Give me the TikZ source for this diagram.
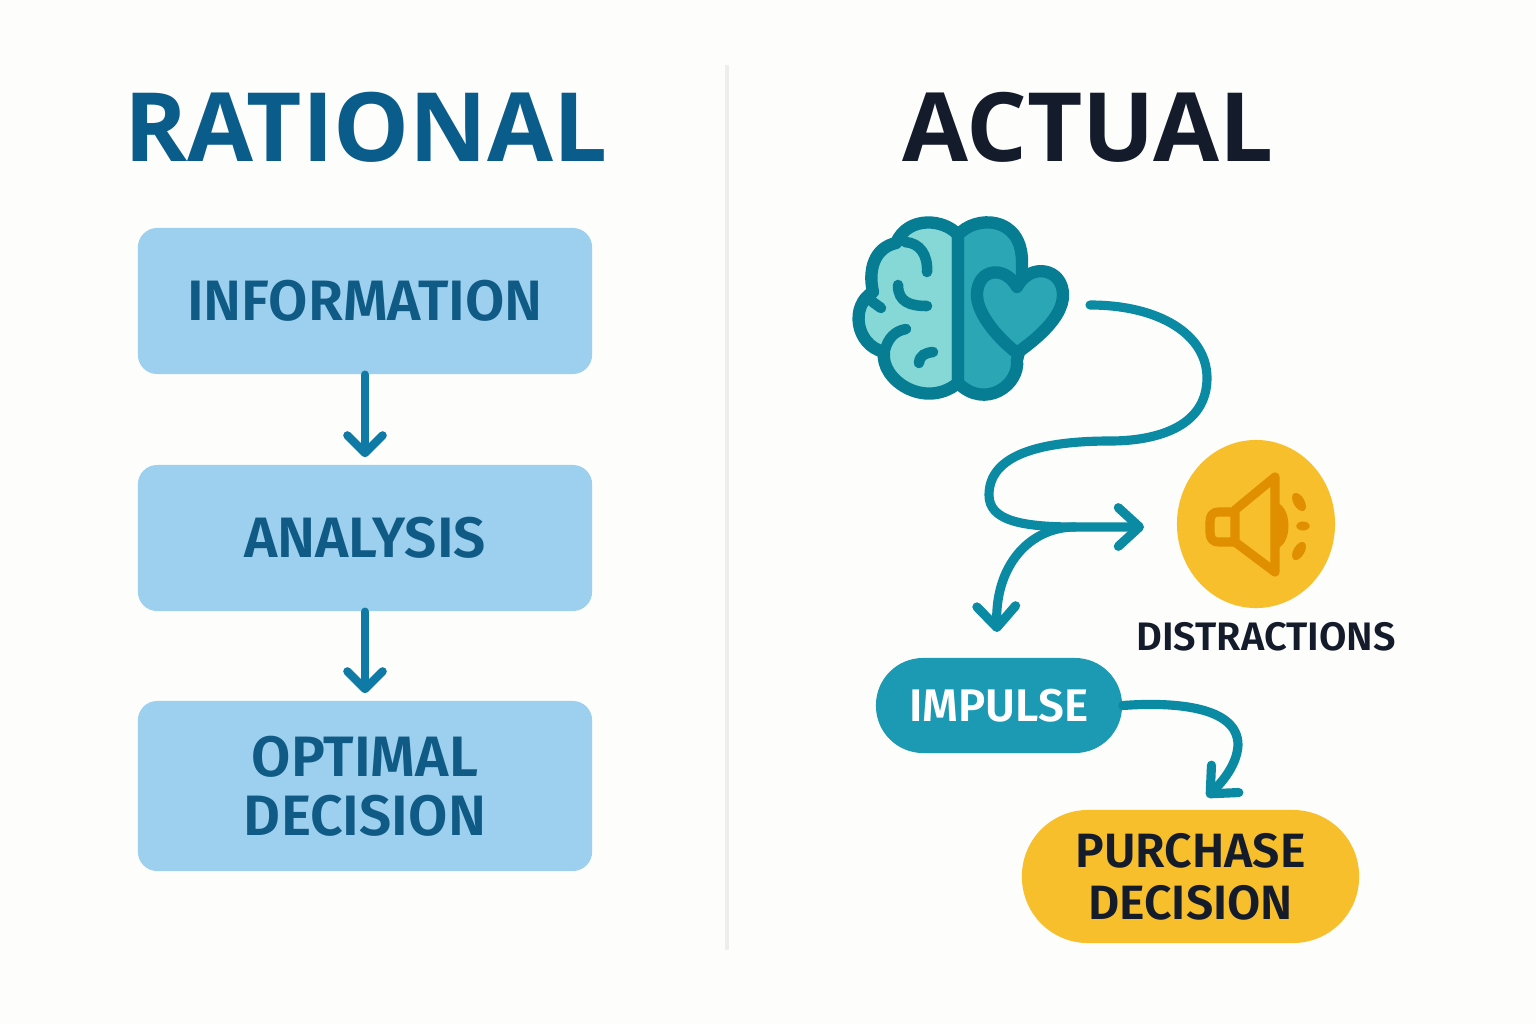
\documentclass[tikz,border=0pt]{standalone}
\usepackage{fontspec}
\setmainfont{Fira Sans}[BoldFont={Fira Sans SemiBold}]
\newfontfamily\headfont{Open Sans}
\usetikzlibrary{arrows.meta,shapes.geometric}
\definecolor{paper}{HTML}{FDFDFB}
\definecolor{rule}{HTML}{EEEEEB}
\definecolor{skyfill}{HTML}{9DCFEE}
\definecolor{navytext}{HTML}{0F5B85}
\definecolor{titleblue}{HTML}{0A5C8A}
\definecolor{inkdark}{HTML}{141B2A}
\definecolor{arrowblue}{HTML}{0F7AA6}
\definecolor{teal}{HTML}{0A8AA3}
\definecolor{tealdark}{HTML}{067D93}
\definecolor{tealpale}{HTML}{85D8D6}
\definecolor{tealmid}{HTML}{2BA6B5}
\definecolor{pilltill}{HTML}{1C9AB3}
\definecolor{amber}{HTML}{F8BF2C}
\definecolor{amberdark}{HTML}{E08F00}
\tikzset{
  stepbox/.style={fill=skyfill,rounded corners=5.5pt,minimum width=4.54cm,text=navytext,align=center,font=\fontsize{16.2}{16.8}\selectfont\bfseries},
  titletext/.style={font=\headfont\fontsize{27.2}{30}\selectfont\bfseries},
  flow/.style={line width=2.4pt,line cap=round,line join=round,-{Straight Barb[round,length=5pt,width=10pt]}},
  bigflow/.style={line width=2.6pt,line cap=round,line join=round,-{Straight Barb[round,length=6pt,width=11pt]}},
  brainline/.style={draw=tealdark,line width=3.5pt,line cap=round,line join=round},
  brainfold/.style={draw=tealdark,line width=3pt,line cap=round},
}
\begin{document}
\begin{tikzpicture}[x=0.01cm,y=-0.01cm]
      \fill[paper] (0,0) rectangle (1536,1024);
      \useasboundingbox (0,0) rectangle (1536,1024);
      \draw[rule,line width=1pt] (727,65) -- (727,950);
      % left column
      \node[titletext,text=titleblue] (rational) at (366,127) {RATIONAL};
      \node[stepbox,minimum height=1.46cm] (information) at (365,301) {INFORMATION};
      \node[stepbox,minimum height=1.46cm] (analysis) at (365,538) {ANALYSIS};
      \node[stepbox,minimum height=1.70cm] (optimal) at (365,786) {OPTIMAL\\DECISION};
      \draw[flow,arrowblue,shorten >=2pt] (information) -- (analysis);
      \draw[flow,arrowblue,shorten >=2pt] (analysis) -- (optimal);
      % right column
      \node[titletext,text=inkdark] (actual) at (1088,127) {ACTUAL};
      % brain
      \draw[brainline,fill=tealpale] (958,235) .. controls (945,219) and (908,215) .. (896,243)
        .. controls (874,248) and (868,270) .. (873,292) .. controls (850,305) and (855,345) .. (884,352)
        .. controls (880,380) and (925,410) .. (958,383) -- cycle;
      \draw[brainline,fill=tealmid] (958,235) .. controls (975,215) and (1022,215) .. (1022,262)
        -- (1022,340) -- (1017,360) .. controls (1020,385) and (985,410) .. (958,383) -- cycle;
      \draw[brainline,fill=tealmid] (1017,287) .. controls (1005,265) and (977,268) .. (977,295)
        .. controls (977,315) and (1000,340) .. (1017,353) .. controls (1035,340) and (1063,318) .. (1063,295)
        .. controls (1063,268) and (1030,262) .. (1017,287) -- cycle;
      \draw[brainfold] (905,242) .. controls (920,243) and (928,255) .. (927,272);
      \draw[brainfold] (898,285) .. controls (898,302) and (910,306) .. (927,306);
      \draw[brainfold] (870,300) -- (881,308);
      \draw[brainfold] (906,329) .. controls (895,331) and (888,338) .. (885,350);
      \draw[brainfold] (919,363) .. controls (920,355) and (925,353) .. (933,352);
      % route out of the brain
      \coordinate (brainout) at (1090,305);
      \coordinate (noiseend) at (1144,527);
      \coordinate (impulsein) at (997,632);
      \coordinate (split) at (1075,527);
      \coordinate (purchasein) at (1207,797);
      \draw[bigflow,teal] (brainout) .. controls (1160,305) and (1207,335) .. (1207,378)
        .. controls (1207,425) and (1160,441) .. (1110,441)
        .. controls (1040,441) and (989,455) .. (989,495)
        .. controls (989,520) and (1020,527) .. (split) -- (noiseend);
      \draw[bigflow,teal] (split) .. controls (1030,527) and (995,565) .. (impulsein);
      % speaker
      \node[ellipse,fill=amber,minimum width=1.58cm,minimum height=1.68cm,inner sep=0pt] (speaker) at (1256,524) {};
      \fill[amberdark] (1278,503) .. controls (1292,510) and (1292,542) .. (1278,548) -- cycle;
      \draw[amberdark,line width=2.6pt,line join=round] (1275,477) -- (1275,572) -- (1235,542) -- (1235,510) -- cycle;
      \draw[amberdark,line width=2.6pt,line join=round] (1235,512) -- (1219,512) .. controls (1212,512) and (1210,516) .. (1210,522)
        -- (1210,532) .. controls (1210,538) and (1212,542) .. (1219,542) -- (1235,542);
      \fill[amberdark,rotate around={-60:(1299,502)}] (1299,502) ellipse (10 and 5.5);
      \fill[amberdark] (1303,526) ellipse (6.7 and 4.5);
      \fill[amberdark,rotate around={60:(1299,551)}] (1299,551) ellipse (10 and 5.5);
      \node[text=inkdark,font=\fontsize{11.3}{13}\selectfont\bfseries] (distractions) at (1266,637) {DISTRACTIONS};
      % pills
      \node[fill=pilltill,rounded corners=13.4pt,minimum width=2.46cm,minimum height=0.95cm,text=white,font=\fontsize{13}{15}\selectfont\bfseries] (impulse) at (999,705.5) {IMPULSE};
      \node[fill=amber,rounded corners=18.8pt,minimum width=3.37cm,minimum height=1.33cm,text=inkdark,align=center,font=\fontsize{13.7}{14.7}\selectfont\bfseries] (purchase) at (1190.5,876.5) {PURCHASE\\DECISION};
      \draw[bigflow,teal] (impulse.east) .. controls (1170,702) and (1238,705) .. (1238,745)
        .. controls (1237,765) and (1222,782) .. (purchasein);
\end{tikzpicture}
\end{document}
